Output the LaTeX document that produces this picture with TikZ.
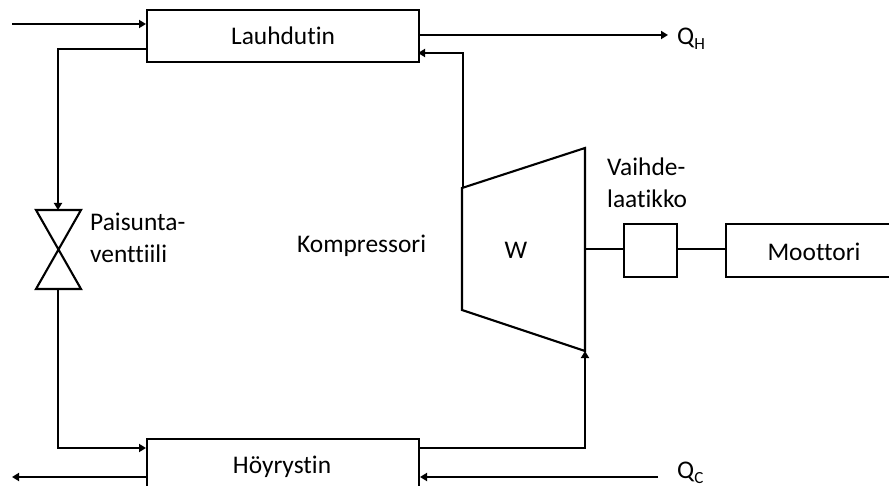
\documentclass[tikz,border=0pt]{standalone}
\usepackage{fontspec}
\setmainfont[RawFeature={-liga;-clig;-dlig}]{Carlito}
\usetikzlibrary{arrows.meta}
\tikzset{
  lbl/.style={inner sep=0pt,font=\fontsize{25.4}{31.5}\selectfont,align=left},
  boxnode/.style={draw,line width=2.1pt,inner sep=0pt,font=\fontsize{25.4}{31.5}\selectfont,anchor=north west},
  flow/.style={line width=2.1pt,-{Triangle[length=7pt,width=8pt]}},
  plain/.style={line width=2.1pt}
}
\newcommand{\qsub}[1]{Q\kern0pt\raisebox{-5.5pt}{\fontsize{17}{17}\selectfont #1}}
\begin{document}
\begin{tikzpicture}[x=1pt,y=-1pt]
\useasboundingbox (0,0) rectangle (889,486);
\clip (0,0) rectangle (889,486);
\node[boxnode,minimum width=272pt,minimum height=52pt] (lau) at (146,9) {Lauhdutin};
\node[boxnode,minimum width=272pt,minimum height=52pt] (hoy) at (146,438) {};
\node[lbl] (hoyt) at (282,467) {Höyrystin};
\node[boxnode,minimum width=53pt,minimum height=53pt] (gear) at (623,223) {};
\node[boxnode,minimum width=170pt,minimum height=53pt] (moot) at (725,223) {};
\node[lbl] (moott) at (814,252) {Moottori};
\draw[plain,line join=miter] (462,188) coordinate (c1) -- (585,148) coordinate (c2) -- (585,351) coordinate (c3) -- (462,310) coordinate (c4) -- cycle;
\draw[plain,line join=miter] (36,210) coordinate (v1) -- (81,210) coordinate (v2) -- (36,289) coordinate (v3) -- (81,289) coordinate (v4) -- cycle;
\node[lbl] (w) at (516,250) {W};
\node[lbl,anchor=west] (komp) at (297,246) {Kompressori};
\node[lbl,anchor=north west] (pais) at (90,213) {Paisunta-\\venttiili};
\node[lbl,anchor=north west] (vaih) at (607,158) {Vaihde-\\laatikko};
\node[lbl,anchor=west] (qh) at (677,39) {\qsub{H}};
\node[lbl,anchor=west] (qc) at (677,473) {\qsub{C}};
\coordinate (inA) at (12,24);
\coordinate (lauInA) at (146,24);
\coordinate (lauOut) at (146,49);
\coordinate (vTop) at (58,210);
\coordinate (vBot) at (58,289);
\coordinate (hoyIn) at (146,448);
\coordinate (hoyOutB) at (146,477);
\coordinate (outB) at (12,477);
\coordinate (hoyOutR) at (418,448);
\coordinate (compIn) at (585,351);
\coordinate (compOut) at (463,188);
\coordinate (lauIn) at (418,53);
\coordinate (lauOutR) at (418,35);
\coordinate (qhEnd) at (668,35);
\coordinate (qcStart) at (658,477);
\coordinate (hoyInR) at (420,477);
\coordinate (compR) at (585,249);
\draw[flow] (inA) -- (lauInA);
\draw[flow] (lauOut) -| (vTop);
\draw[flow] (vBot) |- (hoyIn);
\draw[flow] (hoyOutB) -- (outB);
\draw[flow] (hoyOutR) -| (compIn);
\draw[flow] (compOut) |- (lauIn);
\draw[flow] (lauOutR) -- (qhEnd);
\draw[flow] (qcStart) -- (hoyInR);
\draw[plain] (compR) -- (gear.west |- compR);
\draw[plain] (gear.east |- compR) -- (moot.west |- compR);
\end{tikzpicture}
\end{document}
